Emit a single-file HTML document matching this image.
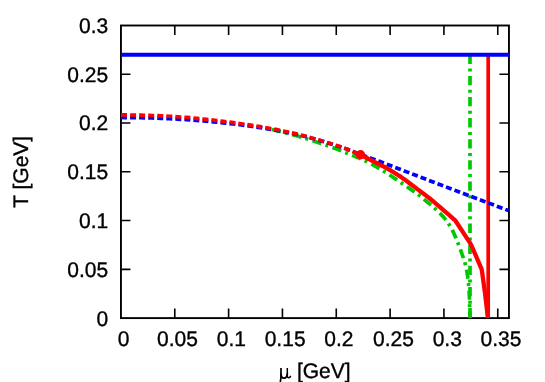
<!DOCTYPE html>
<html><head><meta charset="utf-8"><title>chart</title>
<style>html,body{margin:0;padding:0;background:#fff;width:545px;height:382px;overflow:hidden}
body{font-family:"Liberation Sans",sans-serif}</style></head>
<body>
<svg width="545" height="382" viewBox="0 0 545 382" style="position:absolute;left:0;top:0;will-change:transform">
<rect width="545" height="382" fill="#fff"/>
<g stroke="#000" stroke-width="1.6" fill="none" stroke-linecap="butt">
<rect x="120.95" y="25.5" width="388.0" height="292.6" stroke-width="1.9"/>
<path d="M174.78,318.1 V308.6 M174.78,25.5 V35.0"/>
<path d="M228.61,318.1 V308.6 M228.61,25.5 V35.0"/>
<path d="M282.44,318.1 V308.6 M282.44,25.5 V35.0"/>
<path d="M336.27,318.1 V308.6 M336.27,25.5 V35.0"/>
<path d="M390.10,318.1 V308.6 M390.10,25.5 V35.0"/>
<path d="M443.93,318.1 V308.6 M443.93,25.5 V35.0"/>
<path d="M497.76,318.1 V308.6 M497.76,25.5 V35.0"/>
<path d="M120.95,269.33 H130.45 M508.95,269.33 H499.45"/>
<path d="M120.95,220.57 H130.45 M508.95,220.57 H499.45"/>
<path d="M120.95,171.80 H130.45 M508.95,171.80 H499.45"/>
<path d="M120.95,123.03 H130.45 M508.95,123.03 H499.45"/>
<path d="M120.95,74.27 H130.45 M508.95,74.27 H499.45"/>
</g>
<g fill="none" stroke-width="3.7" stroke-linecap="butt" stroke-linejoin="round">
<path d="M271.20,129.30 L273.85,129.99 L276.49,130.65 L279.11,131.31 L281.73,131.96 L284.34,132.60 L286.96,133.26 L289.60,133.92 L292.25,134.61 L294.93,135.33 L297.65,136.07 L300.40,136.86 L303.20,137.70 L306.05,138.58 L308.96,139.49 L311.91,140.43 L314.89,141.40 L317.90,142.40 L320.92,143.42 L323.96,144.46 L327.00,145.53 L330.03,146.62 L333.05,147.73 L336.04,148.86 L339.00,150.00 L341.93,151.14 L344.84,152.28 L347.73,153.41 L350.61,154.56 L353.48,155.73 L356.35,156.93 L359.22,158.17 L362.10,159.46 L365.00,160.81 L367.91,162.22 L370.84,163.72 L373.80,165.30 L376.86,167.03 L380.05,168.92 L383.34,170.95 L386.68,173.08 L390.04,175.26 L393.36,177.47 L396.62,179.66 L399.76,181.80 L402.75,183.85 L405.55,185.78 L408.11,187.54 L410.40,189.10 L412.38,190.45 L414.08,191.62 L415.54,192.65 L416.81,193.56 L417.92,194.37 L418.92,195.13 L419.86,195.86 L420.77,196.59 L421.70,197.35 L422.68,198.17 L423.77,199.07 L425.00,200.10 L426.35,201.23 L427.77,202.41 L429.24,203.64 L430.74,204.91 L432.26,206.21 L433.77,207.53 L435.28,208.86 L436.75,210.20 L438.17,211.53 L439.53,212.85 L440.81,214.14 L442.00,215.40 L443.09,216.61 L444.10,217.76 L445.05,218.88 L445.93,219.98 L446.77,221.07 L447.57,222.17 L448.35,223.30 L449.11,224.47 L449.87,225.70 L450.62,227.00 L451.40,228.40 L452.20,229.90 L453.03,231.54 L453.87,233.31 L454.71,235.20 L455.56,237.17 L456.40,239.20 L457.23,241.26 L458.04,243.33 L458.83,245.39 L459.59,247.39 L460.30,249.33 L460.98,251.18 L461.60,252.90 L462.17,254.50 L462.70,256.01 L463.20,257.43 L463.66,258.80 L464.08,260.12 L464.48,261.41 L464.86,262.70 L465.21,263.99 L465.55,265.31 L465.87,266.68 L466.19,268.10 L466.50,269.60 L466.80,271.15 L467.07,272.70 L467.33,274.26 L467.57,275.84 L467.79,277.45 L467.99,279.09 L468.19,280.77 L468.37,282.49 L468.54,284.27 L468.70,286.11 L468.85,288.02 L469.00,290.00 L469.14,292.07 L469.25,294.24 L469.36,296.48 L469.44,298.80 L469.52,301.16 L469.59,303.57 L469.66,306.00 L469.72,308.45 L469.79,310.89 L469.85,313.33 L469.92,315.73 L470.00,318.10" stroke="#00c800" stroke-dasharray="9.3 4.3 3 4.5" stroke-dashoffset="-0.7"/>
<path d="M470,318.1 V54.76" stroke="#00c800" stroke-dasharray="9.3 4.3 3 4.5" stroke-dashoffset="-0.8"/>
<path d="M488.2,318.1 V54.76" stroke="#ff0000"/>
<path d="M121.00,117.50 L123.83,117.55 L126.66,117.59 L129.48,117.62 L132.30,117.66 L135.12,117.69 L137.94,117.72 L140.76,117.76 L143.59,117.81 L146.43,117.87 L149.28,117.93 L152.13,118.01 L155.00,118.10 L157.87,118.20 L160.72,118.31 L163.56,118.42 L166.41,118.54 L169.26,118.67 L172.12,118.81 L175.01,118.95 L177.93,119.11 L180.88,119.29 L183.87,119.48 L186.91,119.68 L190.00,119.90 L193.17,120.14 L196.40,120.39 L199.70,120.65 L203.04,120.93 L206.42,121.23 L209.83,121.53 L213.24,121.85 L216.64,122.18 L220.04,122.52 L223.40,122.87 L226.73,123.23 L230.00,123.60 L233.23,123.98 L236.46,124.37 L239.66,124.77 L242.85,125.18 L246.03,125.60 L249.19,126.04 L252.33,126.48 L255.46,126.94 L258.57,127.41 L261.66,127.89 L264.74,128.39 L267.80,128.90 L270.83,129.42 L273.82,129.94 L276.79,130.46 L279.73,131.00 L282.65,131.55 L285.57,132.11 L288.48,132.70 L291.39,133.30 L294.31,133.93 L297.25,134.59 L300.21,135.28 L303.20,136.00 L306.26,136.77 L309.43,137.61 L312.66,138.49 L315.93,139.41 L319.21,140.35 L322.47,141.31 L325.68,142.26 L328.81,143.21 L331.83,144.14 L334.70,145.04 L337.40,145.90 L339.90,146.70 L342.18,147.45 L344.28,148.18 L346.21,148.87 L348.00,149.54 L349.68,150.19 L351.27,150.82 L352.81,151.45 L354.31,152.06 L355.80,152.67 L357.32,153.27 L358.87,153.88 L360.50,154.50 L362.07,155.08 L363.48,155.59 L364.77,156.05 L366.00,156.49 L367.22,156.92 L368.49,157.37 L369.86,157.85 L371.38,158.40 L373.10,159.03 L375.07,159.75 L377.36,160.60 L380.00,161.60 L383.06,162.76 L386.51,164.08 L390.30,165.53 L394.34,167.09 L398.60,168.72 L402.99,170.41 L407.45,172.13 L411.93,173.86 L416.36,175.56 L420.67,177.22 L424.81,178.81 L428.70,180.30 L432.41,181.72 L436.04,183.10 L439.61,184.46 L443.11,185.80 L446.57,187.11 L449.98,188.41 L453.36,189.69 L456.71,190.96 L460.04,192.22 L463.36,193.48 L466.68,194.74 L470.00,196.00 L473.31,197.26 L476.59,198.50 L479.84,199.73 L483.07,200.95 L486.27,202.16 L489.47,203.37 L492.65,204.57 L495.83,205.77 L499.01,206.98 L502.20,208.18 L505.39,209.39 L508.60,210.60" stroke="#0000ff" stroke-dasharray="6 3.06"/>
<path d="M121.00,114.80 L123.83,114.86 L126.66,114.92 L129.48,114.97 L132.30,115.02 L135.12,115.07 L137.94,115.12 L140.76,115.17 L143.59,115.24 L146.43,115.31 L149.28,115.39 L152.13,115.49 L155.00,115.60 L157.87,115.72 L160.72,115.85 L163.56,115.98 L166.41,116.11 L169.26,116.26 L172.12,116.42 L175.01,116.59 L177.93,116.77 L180.88,116.98 L183.87,117.20 L186.91,117.44 L190.00,117.70 L193.17,117.99 L196.40,118.30 L199.70,118.63 L203.04,118.97 L206.42,119.34 L209.83,119.72 L213.24,120.11 L216.64,120.51 L220.04,120.93 L223.40,121.35 L226.73,121.77 L230.00,122.20 L233.23,122.63 L236.46,123.07 L239.66,123.52 L242.85,123.97 L246.03,124.43 L249.19,124.91 L252.33,125.39 L255.46,125.89 L258.57,126.39 L261.66,126.91 L264.74,127.45 L267.80,128.00 L270.83,128.56 L273.82,129.12 L276.79,129.69 L279.73,130.27 L282.65,130.87 L285.57,131.47 L288.48,132.10 L291.39,132.75 L294.31,133.42 L297.25,134.12 L300.21,134.84 L303.20,135.60 L306.26,136.41 L309.43,137.27 L312.66,138.18 L315.93,139.12 L319.21,140.08 L322.47,141.06 L325.68,142.04 L328.81,143.01 L331.83,143.97 L334.70,144.89 L337.40,145.77 L339.90,146.60 L342.18,147.38 L344.27,148.13 L346.18,148.85 L347.96,149.54 L349.62,150.22 L351.21,150.88 L352.73,151.53 L354.23,152.17 L355.73,152.82 L357.25,153.47 L358.83,154.13 L360.50,154.80" stroke="#ff0000" stroke-dasharray="6 3.06"/>
<path d="M360.50,154.80 L361.27,155.20 L362.01,155.58 L362.73,155.95 L363.44,156.32 L364.14,156.68 L364.86,157.06 L365.60,157.44 L366.37,157.84 L367.19,158.26 L368.06,158.70 L368.99,159.18 L370.00,159.70 L371.09,160.25 L372.26,160.84 L373.49,161.44 L374.77,162.08 L376.10,162.73 L377.46,163.41 L378.84,164.10 L380.24,164.80 L381.63,165.51 L383.01,166.24 L384.37,166.97 L385.70,167.70 L387.01,168.44 L388.32,169.18 L389.62,169.94 L390.93,170.71 L392.24,171.49 L393.55,172.28 L394.86,173.08 L396.17,173.89 L397.47,174.72 L398.78,175.57 L400.09,176.42 L401.40,177.30 L402.71,178.20 L404.02,179.11 L405.32,180.05 L406.63,181.00 L407.94,181.97 L409.25,182.94 L410.56,183.93 L411.87,184.92 L413.18,185.92 L414.48,186.91 L415.79,187.91 L417.10,188.90 L418.39,189.87 L419.64,190.80 L420.87,191.72 L422.08,192.62 L423.30,193.53 L424.53,194.46 L425.78,195.41 L427.06,196.40 L428.40,197.44 L429.79,198.55 L431.25,199.73 L432.80,201.00 L434.44,202.37 L436.16,203.82 L437.95,205.35 L439.80,206.95 L441.69,208.60 L443.62,210.29 L445.58,212.00 L447.55,213.73 L449.52,215.45 L451.47,217.16 L453.40,218.85 L455.30,220.50 L471.00,244.40 L481.70,269.30 L485.10,293.70 L487.90,318.10" stroke="#ff0000" stroke-width="4.3" stroke-linejoin="miter"/>
<path d="M120.95,54.76 H508.95" stroke="#0000ff" stroke-width="3.8"/>
</g>
<circle cx="360.5" cy="154.8" r="4.7" fill="#ff0000"/>
<g font-family="Liberation Sans, sans-serif" font-size="21" fill="#000" stroke="#000" stroke-width="0.35" text-rendering="geometricPrecision">
<text x="108.2" y="325.50" text-anchor="end">0</text>
<text x="108.2" y="276.73" text-anchor="end">0.05</text>
<text x="108.2" y="227.97" text-anchor="end">0.1</text>
<text x="108.2" y="179.20" text-anchor="end">0.15</text>
<text x="108.2" y="130.43" text-anchor="end">0.2</text>
<text x="108.2" y="81.67" text-anchor="end">0.25</text>
<text x="108.2" y="32.90" text-anchor="end">0.3</text>
<text x="123.65" y="346.3" text-anchor="middle">0</text>
<text x="177.48" y="346.3" text-anchor="middle">0.05</text>
<text x="231.31" y="346.3" text-anchor="middle">0.1</text>
<text x="285.14" y="346.3" text-anchor="middle">0.15</text>
<text x="338.97" y="346.3" text-anchor="middle">0.2</text>
<text x="393.40" y="346.3" text-anchor="middle">0.25</text>
<text x="447.23" y="346.3" text-anchor="middle">0.3</text>
<text x="501.06" y="346.3" text-anchor="middle">0.35</text>
<text x="296.9" y="377.8">[GeV]</text>
<g fill="none" stroke="#000" stroke-width="1.5" stroke-linecap="butt" stroke-linejoin="round"><path d="M281,367.9 V375.5 C281,378 280.6,380 280.3,382.5" stroke-width="1.7"/><path d="M281,373.5 C281,377 282.4,378.1 284,378.1 C285.8,378.1 287.2,376.6 287.3,373.5" stroke-width="1.8"/><path d="M287.3,367.9 V375.8 C287.3,378.2 289.6,378.6 290.8,375.9" stroke-width="1.5"/></g>
<text transform="translate(27.5,171.8) rotate(-90)" text-anchor="middle">T [GeV]</text>
</g>
</svg>
</body></html>
